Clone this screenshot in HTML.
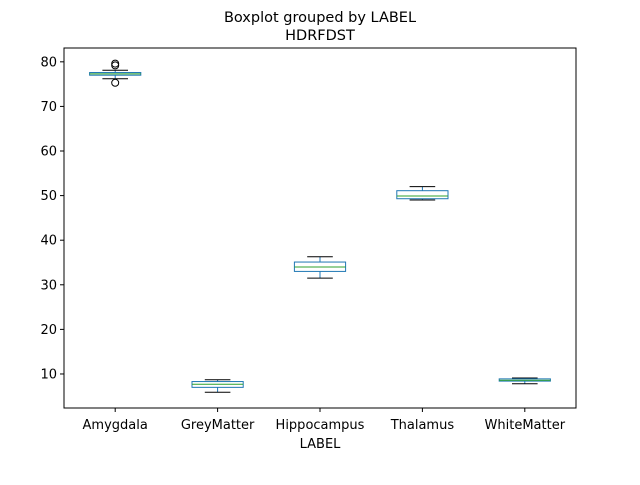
<!DOCTYPE html>
<html><head><meta charset="utf-8"><style>
body{margin:0;background:#fff;font-family:"Liberation Sans","DejaVu Sans",sans-serif}
svg text{font-family:"DejaVu Sans","Liberation Sans",sans-serif;font-size:13px;fill:#000}
</style></head><body>
<svg id="c" width="640" height="480" xmlns="http://www.w3.org/2000/svg">
<rect width="640" height="480" fill="#fff"/>
<text x="320" y="22" text-anchor="middle" style="font-size:14.5px">Boxplot grouped by LABEL</text>
<text x="320" y="40" text-anchor="middle" style="font-size:14.5px">HDRFDST</text>
<g id="plot"></g>
<rect x="64" y="48" width="512" height="360" fill="none" stroke="#000" stroke-width="1"/>
<text x="320" y="448" text-anchor="middle">LABEL</text>
</svg>
<script>
const categories=["Amygdala","GreyMatter","Hippocampus","Thalamus","WhiteMatter"];
const q1=[77.0,7.0,33.0,49.3,8.4];
const medians=[77.3,7.7,34.0,49.9,8.6];
const q3=[77.6,8.3,35.1,51.1,8.9];
const whiskLo=[76.2,5.9,31.5,49.0,7.8];
const whiskHi=[78.1,8.7,36.3,52.0,9.1];
const outliers=[[79.6,79.2,75.3],[],[],[],[]];
const yTicks=[10,20,30,40,50,60,70,80];
const yMin=2.37,yMax=83.1,pTop=48,pBot=408,pLeft=64,pRight=576;
const NS="http://www.w3.org/2000/svg";
const g=document.getElementById('plot');
function y(v){return pBot-(v-yMin)/(yMax-yMin)*(pBot-pTop);}
function x(i){return pLeft+(pRight-pLeft)*(i+0.5)/categories.length;}
function mk(t,a,p){const e=document.createElementNS(NS,t);for(const k in a)e.setAttribute(k,a[k]);(p||g).appendChild(e);return e;}
yTicks.forEach(v=>{
 const l=mk('line',{x1:pLeft-4,x2:pLeft,y1:y(v),y2:y(v),stroke:'#000'});
 
 
 const t=mk('text',{x:pLeft-7,y:y(v)+4.5,'text-anchor':'end'});t.textContent=v;
 
 
});
const hw=(pRight-pLeft)/categories.length*0.25;
categories.forEach((c,i)=>{
 const cx=x(i);
 mk('line',{x1:cx,x2:cx,y1:pBot,y2:pBot+4,stroke:'#000'});
 const t=mk('text',{x:cx,y:pBot+21,'text-anchor':'middle'});t.textContent=c;
 
 
 const b=mk('g',{});
 
 
 mk('line',{x1:cx,x2:cx,y1:y(q3[i]),y2:y(whiskHi[i]),stroke:'#1f77b4'},b);
 mk('line',{x1:cx,x2:cx,y1:y(q1[i]),y2:y(whiskLo[i]),stroke:'#1f77b4'},b);
 mk('line',{x1:cx-hw/2,x2:cx+hw/2,y1:y(whiskHi[i]),y2:y(whiskHi[i]),stroke:'#000'},b);
 mk('line',{x1:cx-hw/2,x2:cx+hw/2,y1:y(whiskLo[i]),y2:y(whiskLo[i]),stroke:'#000'},b);
 mk('rect',{x:cx-hw,y:y(q3[i]),width:2*hw,height:Math.max(1,y(q1[i])-y(q3[i])),fill:'none',stroke:'#1f77b4'},b);
 mk('line',{x1:cx-hw,x2:cx+hw,y1:y(medians[i]),y2:y(medians[i]),stroke:'#2ca02c'},b);
 outliers[i].forEach(o=>mk('circle',{cx:cx,cy:y(o),r:3.5,fill:'none',stroke:'#000'},b));
});
</script>
</body></html>
